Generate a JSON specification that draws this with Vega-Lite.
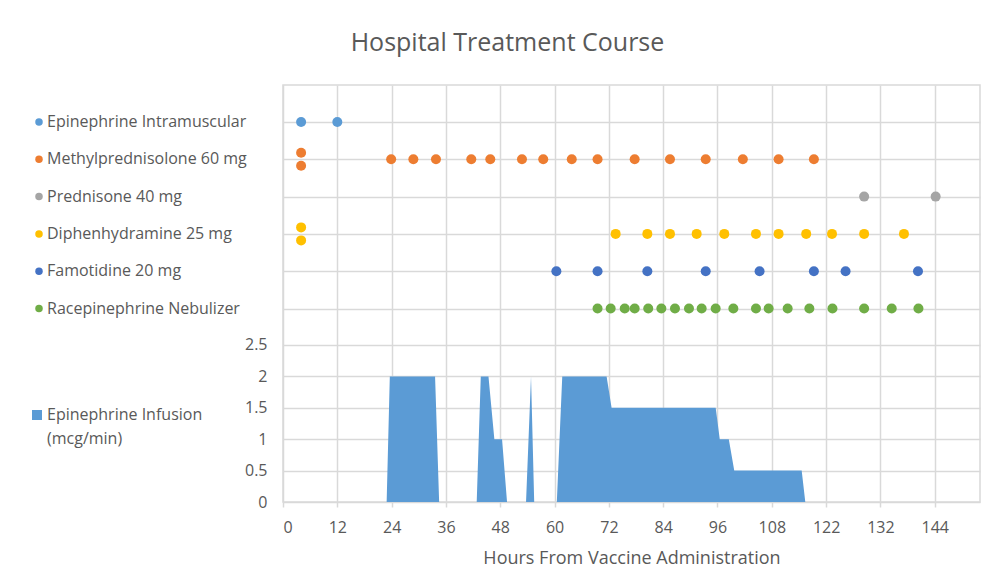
{
  "$schema": "https://vega.github.io/schema/vega-lite/v6.json",
  "width": 697,
  "height": 417,
  "autosize": {"type": "none"},
  "padding": {"left": 283, "top": 85, "right": 11, "bottom": 76},
  "background": "white",
  "title": {"text": "Hospital Treatment Course", "fontSize": 25, "font": "Open Sans", "fontWeight": "normal", "color": "#595959", "anchor": "middle", "dx": -124, "offset": 29},
  "config": {
    "font": "Open Sans",
    "view": {"stroke": "#d9d9d9", "strokeWidth": 1.5},
    "axis": {"gridColor": "#d9d9d9", "gridWidth": 1.5, "labelColor": "#595959", "labelFontSize": 16, "labelFont": "Open Sans", "titleColor": "#595959", "titleFontWeight": "normal", "titleFont": "Open Sans", "domain": false},
    "legend": {"labelColor": "#595959", "labelFontSize": 16, "labelFont": "Open Sans", "labelLimit": 400, "padding": 0},
    "style": {"guide-label": {"lineHeight": 24}}
  },
  "datasets": {
    "infusion": [
      {"series": "Epinephrine Infusion (mcg/min)", "hour": 22.9, "rate": 0},
      {"series": "Epinephrine Infusion (mcg/min)", "hour": 23.6, "rate": 2},
      {"series": "Epinephrine Infusion (mcg/min)", "hour": 33.6, "rate": 2},
      {"series": "Epinephrine Infusion (mcg/min)", "hour": 34.5, "rate": 0},
      {"series": "Epinephrine Infusion (mcg/min)", "hour": 42.8, "rate": 0},
      {"series": "Epinephrine Infusion (mcg/min)", "hour": 43.7, "rate": 2},
      {"series": "Epinephrine Infusion (mcg/min)", "hour": 45.4, "rate": 2},
      {"series": "Epinephrine Infusion (mcg/min)", "hour": 46.7, "rate": 1},
      {"series": "Epinephrine Infusion (mcg/min)", "hour": 48.4, "rate": 1},
      {"series": "Epinephrine Infusion (mcg/min)", "hour": 49.5, "rate": 0},
      {"series": "Epinephrine Infusion (mcg/min)", "hour": 53.7, "rate": 0},
      {"series": "Epinephrine Infusion (mcg/min)", "hour": 54.8, "rate": 2},
      {"series": "Epinephrine Infusion (mcg/min)", "hour": 55.5, "rate": 0},
      {"series": "Epinephrine Infusion (mcg/min)", "hour": 60.5, "rate": 0},
      {"series": "Epinephrine Infusion (mcg/min)", "hour": 61.7, "rate": 2},
      {"series": "Epinephrine Infusion (mcg/min)", "hour": 71.5, "rate": 2},
      {"series": "Epinephrine Infusion (mcg/min)", "hour": 72.6, "rate": 1.5},
      {"series": "Epinephrine Infusion (mcg/min)", "hour": 95.6, "rate": 1.5},
      {"series": "Epinephrine Infusion (mcg/min)", "hour": 96.5, "rate": 1},
      {"series": "Epinephrine Infusion (mcg/min)", "hour": 98.5, "rate": 1},
      {"series": "Epinephrine Infusion (mcg/min)", "hour": 99.7, "rate": 0.5},
      {"series": "Epinephrine Infusion (mcg/min)", "hour": 114.6, "rate": 0.5},
      {"series": "Epinephrine Infusion (mcg/min)", "hour": 115.4, "rate": 0}
    ],
    "doses": [
      {"med": "Epinephrine Intramuscular", "hour": 4, "dup": 0},
      {"med": "Epinephrine Intramuscular", "hour": 12, "dup": 0},
      {"med": "Methylprednisolone 60 mg", "hour": 4, "dup": -1},
      {"med": "Methylprednisolone 60 mg", "hour": 4, "dup": 1},
      {"med": "Methylprednisolone 60 mg", "hour": 23.9, "dup": 0},
      {"med": "Methylprednisolone 60 mg", "hour": 28.8, "dup": 0},
      {"med": "Methylprednisolone 60 mg", "hour": 33.8, "dup": 0},
      {"med": "Methylprednisolone 60 mg", "hour": 41.6, "dup": 0},
      {"med": "Methylprednisolone 60 mg", "hour": 45.8, "dup": 0},
      {"med": "Methylprednisolone 60 mg", "hour": 52.8, "dup": 0},
      {"med": "Methylprednisolone 60 mg", "hour": 57.5, "dup": 0},
      {"med": "Methylprednisolone 60 mg", "hour": 63.8, "dup": 0},
      {"med": "Methylprednisolone 60 mg", "hour": 69.5, "dup": 0},
      {"med": "Methylprednisolone 60 mg", "hour": 77.7, "dup": 0},
      {"med": "Methylprednisolone 60 mg", "hour": 85.5, "dup": 0},
      {"med": "Methylprednisolone 60 mg", "hour": 93.4, "dup": 0},
      {"med": "Methylprednisolone 60 mg", "hour": 101.6, "dup": 0},
      {"med": "Methylprednisolone 60 mg", "hour": 109.5, "dup": 0},
      {"med": "Methylprednisolone 60 mg", "hour": 117.3, "dup": 0},
      {"med": "Prednisone 40 mg", "hour": 128.4, "dup": 0},
      {"med": "Prednisone 40 mg", "hour": 144.2, "dup": 0},
      {"med": "Diphenhydramine 25 mg", "hour": 4, "dup": -1},
      {"med": "Diphenhydramine 25 mg", "hour": 4, "dup": 1},
      {"med": "Diphenhydramine 25 mg", "hour": 73.5, "dup": 0},
      {"med": "Diphenhydramine 25 mg", "hour": 80.5, "dup": 0},
      {"med": "Diphenhydramine 25 mg", "hour": 85.5, "dup": 0},
      {"med": "Diphenhydramine 25 mg", "hour": 91.4, "dup": 0},
      {"med": "Diphenhydramine 25 mg", "hour": 97.5, "dup": 0},
      {"med": "Diphenhydramine 25 mg", "hour": 104.5, "dup": 0},
      {"med": "Diphenhydramine 25 mg", "hour": 109.5, "dup": 0},
      {"med": "Diphenhydramine 25 mg", "hour": 115.6, "dup": 0},
      {"med": "Diphenhydramine 25 mg", "hour": 121.3, "dup": 0},
      {"med": "Diphenhydramine 25 mg", "hour": 128.4, "dup": 0},
      {"med": "Diphenhydramine 25 mg", "hour": 137.2, "dup": 0},
      {"med": "Famotidine 20 mg", "hour": 60.4, "dup": 0},
      {"med": "Famotidine 20 mg", "hour": 69.5, "dup": 0},
      {"med": "Famotidine 20 mg", "hour": 80.5, "dup": 0},
      {"med": "Famotidine 20 mg", "hour": 93.4, "dup": 0},
      {"med": "Famotidine 20 mg", "hour": 105.3, "dup": 0},
      {"med": "Famotidine 20 mg", "hour": 117.3, "dup": 0},
      {"med": "Famotidine 20 mg", "hour": 124.3, "dup": 0},
      {"med": "Famotidine 20 mg", "hour": 140.3, "dup": 0},
      {"med": "Racepinephrine Nebulizer", "hour": 69.5, "dup": 0},
      {"med": "Racepinephrine Nebulizer", "hour": 72.4, "dup": 0},
      {"med": "Racepinephrine Nebulizer", "hour": 75.5, "dup": 0},
      {"med": "Racepinephrine Nebulizer", "hour": 77.7, "dup": 0},
      {"med": "Racepinephrine Nebulizer", "hour": 80.7, "dup": 0},
      {"med": "Racepinephrine Nebulizer", "hour": 83.6, "dup": 0},
      {"med": "Racepinephrine Nebulizer", "hour": 86.6, "dup": 0},
      {"med": "Racepinephrine Nebulizer", "hour": 89.7, "dup": 0},
      {"med": "Racepinephrine Nebulizer", "hour": 92.5, "dup": 0},
      {"med": "Racepinephrine Nebulizer", "hour": 95.6, "dup": 0},
      {"med": "Racepinephrine Nebulizer", "hour": 99.5, "dup": 0},
      {"med": "Racepinephrine Nebulizer", "hour": 104.5, "dup": 0},
      {"med": "Racepinephrine Nebulizer", "hour": 107.3, "dup": 0},
      {"med": "Racepinephrine Nebulizer", "hour": 111.5, "dup": 0},
      {"med": "Racepinephrine Nebulizer", "hour": 116.3, "dup": 0},
      {"med": "Racepinephrine Nebulizer", "hour": 121.4, "dup": 0},
      {"med": "Racepinephrine Nebulizer", "hour": 128.4, "dup": 0},
      {"med": "Racepinephrine Nebulizer", "hour": 134.5, "dup": 0},
      {"med": "Racepinephrine Nebulizer", "hour": 140.4, "dup": 0}
    ]
  },
  "layer": [
    {
      "data": {"name": "infusion"},
      "mark": {"type": "area", "opacity": 1},
      "encoding": {
        "x": {
          "field": "hour", "type": "quantitative",
          "scale": {"domain": [0, 154], "nice": false, "zero": false},
          "axis": {
            "values": [0, 12, 24, 36, 48, 60, 72, 84, 96, 108, 120, 132, 144],
            "labelExpr": "datum.value == 120 ? '122' : datum.label",
            "title": "Hours From Vaccine Administration",
            "titleFontSize": 18, "titlePadding": 14,
            "ticks": true, "tickColor": "#d9d9d9", "tickSize": 5, "tickWidth": 1.5,
            "labelPadding": 12, "grid": true
          }
        },
        "y": {
          "field": "rate", "type": "quantitative",
          "scale": {"domain": [0, 6.64], "nice": false},
          "axis": {"values": [0, 0.5, 1, 1.5, 2, 2.5], "format": ".1~f", "title": null, "ticks": false, "labelPadding": 16, "grid": true, "orient": "left"}
        },
        "fill": {
          "field": "series", "type": "nominal",
          "scale": {"range": ["#5b9bd5"]},
          "legend": {
            "orient": "none", "legendX": -254, "legendY": 322, "title": null,
            "symbolType": "square", "symbolSize": 100, "labelOffset": 2,
            "labelExpr": "datum.label == 'Epinephrine Infusion (mcg/min)' ? ['Epinephrine Infusion', '(mcg/min)'] : datum.label",
            "encode": {"labels": {"update": {"lineHeight": {"value": 24}}}}
          }
        }
      }
    },
    {
      "data": {"name": "doses"},
      "mark": {"type": "circle", "size": 100, "opacity": 1},
      "encoding": {
        "x": {"field": "hour", "type": "quantitative"},
        "y": {
          "field": "med", "type": "nominal",
          "scale": {
            "type": "point", "padding": 0, "range": [37, 223.5],
            "domain": ["Epinephrine Intramuscular", "Methylprednisolone 60 mg", "Prednisone 40 mg", "Diphenhydramine 25 mg", "Famotidine 20 mg", "Racepinephrine Nebulizer"]
          },
          "axis": {"orient": "right", "labels": false, "ticks": false, "title": null, "grid": true, "domain": false}
        },
        "yOffset": {"field": "dup", "type": "quantitative", "scale": {"domain": [-1, 1], "range": [-6.5, 6.5]}},
        "color": {
          "field": "med", "type": "nominal",
          "scale": {
            "domain": ["Epinephrine Intramuscular", "Methylprednisolone 60 mg", "Prednisone 40 mg", "Diphenhydramine 25 mg", "Famotidine 20 mg", "Racepinephrine Nebulizer"],
            "range": ["#5b9bd5", "#ed7d31", "#a5a5a5", "#ffc000", "#4472c4", "#70ad47"]
          },
          "legend": {
            "orient": "none", "legendX": -252, "legendY": 29, "title": null,
            "symbolType": "circle", "symbolSize": 56, "rowPadding": 21.3, "labelOffset": 0
          }
        }
      }
    }
  ],
  "resolve": {"scale": {"y": "independent"}, "axis": {"y": "independent"}}
}
